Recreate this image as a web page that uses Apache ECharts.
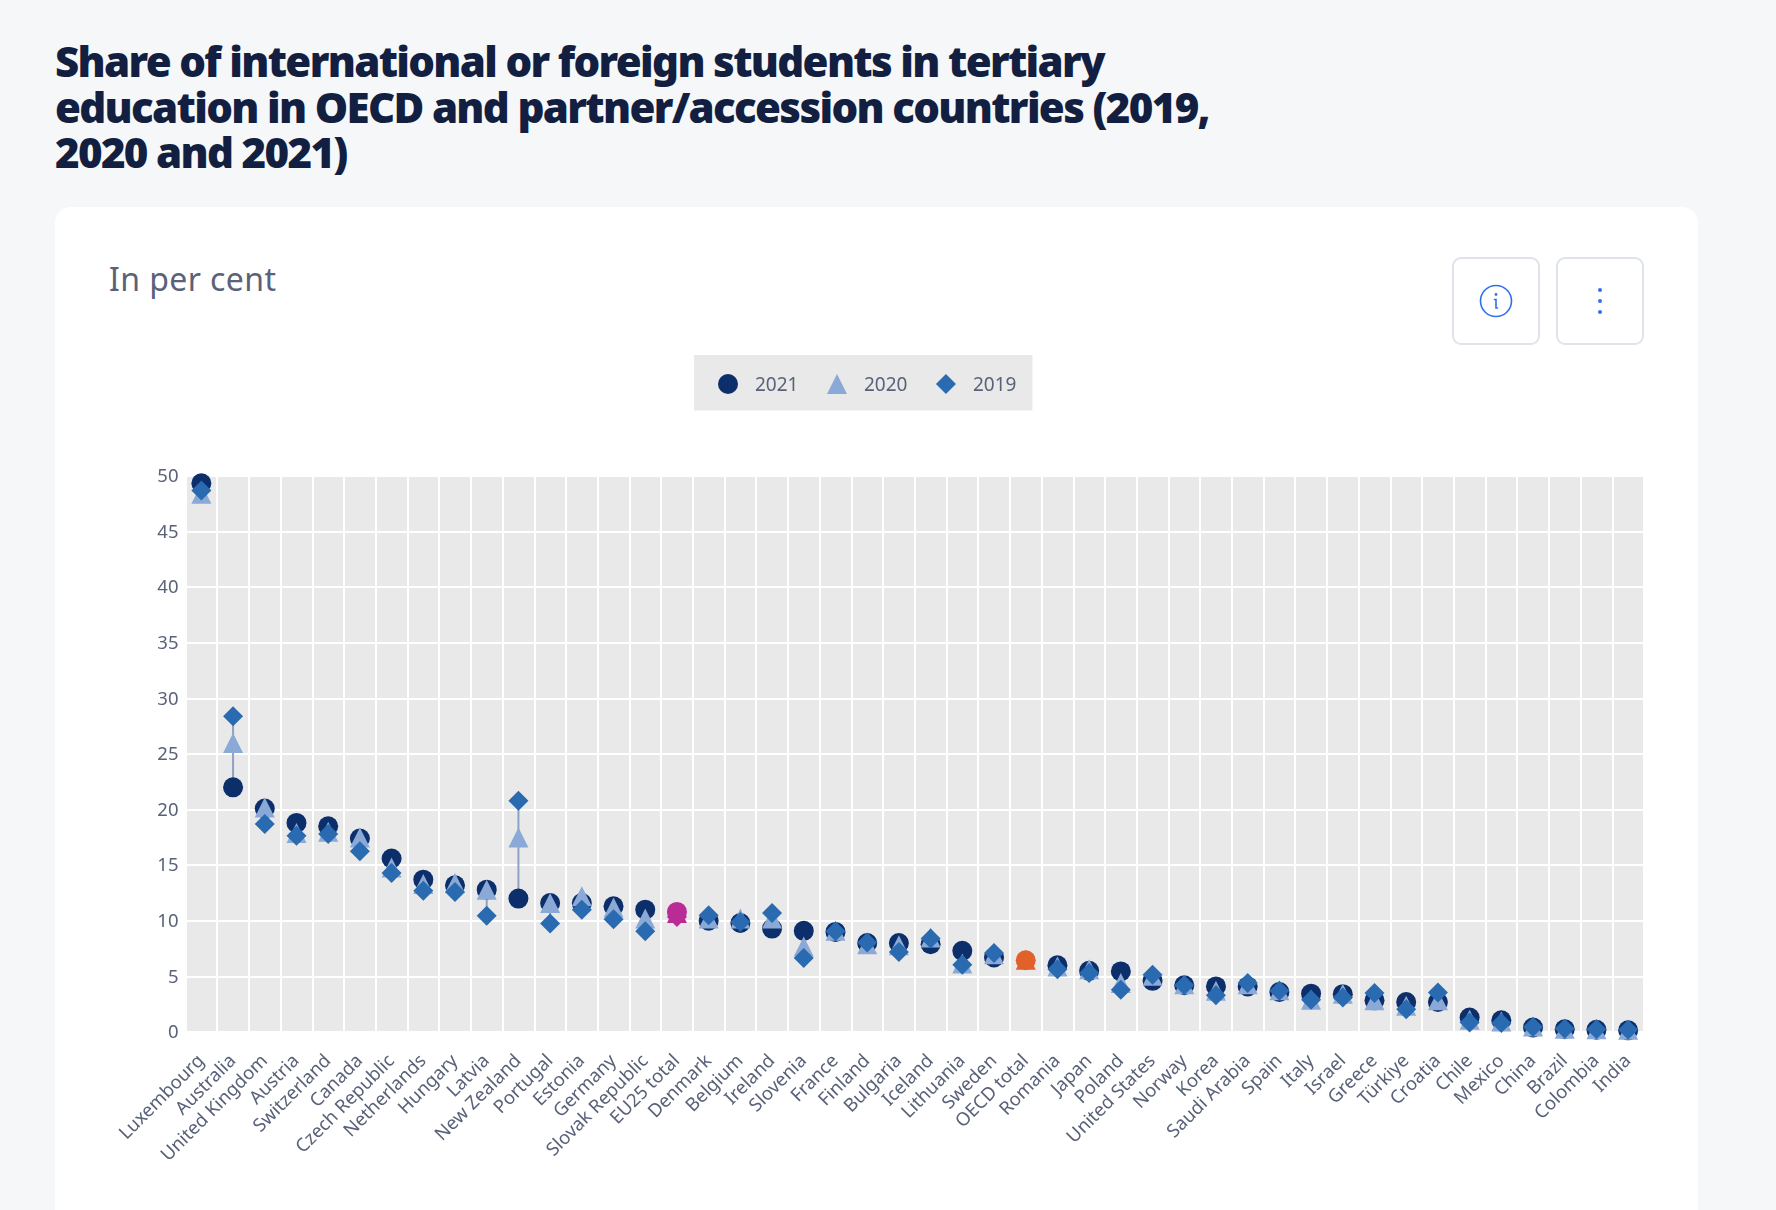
<!DOCTYPE html>
<html>
<head>
<meta charset="utf-8">
<title>Share of international or foreign students</title>
<script src="https://cdn.jsdelivr.net/npm/echarts@6/dist/echarts.min.js"></script>
<style>
  html, body { margin: 0; padding: 0; background: #f6f7f9; overflow: hidden; }
  body { width: 1776px; height: 1210px; position: relative; font-family: "Noto Sans", sans-serif; }
  h1 { position: absolute; left: 55px; top: 38px; margin: 0; font-size: 42px; line-height: 45.5px; font-weight: 900; letter-spacing: -1.67px; color: #121f41; }
  .card { position: absolute; left: 55px; top: 207px; width: 1643px; height: 1100px; background: #fff; border-radius: 16px; }
  .sub { position: absolute; left: 109px; top: 258px; font-size: 32px; line-height: 42px; letter-spacing: 0.4px; color: #5a6279; }
  .btn { position: absolute; top: 257px; width: 84px; height: 84px; border: 2px solid #dfe3ea; border-radius: 9px; background: #fff; display: flex; align-items: center; justify-content: center; }
  #chart { position: absolute; left: 0; top: 0; width: 1776px; height: 1210px; }
</style>
</head>
<body>
<h1>Share of international or foreign students in tertiary<br>education in OECD and partner/accession countries (2019,<br>2020 and 2021)</h1>
<div class="card"></div>
<div class="sub">In per cent</div>
<div id="chart"></div>
<div class="btn" style="left:1452px">
  <svg width="36" height="36" viewBox="0 0 36 36" fill="none" stroke="#2f6fed" stroke-width="1.6"><circle cx="18" cy="18" r="15.5"/><path d="M16.5 16.5h1.5v8.5h1.5" stroke-linecap="round"/><circle cx="18" cy="11.5" r="0.6" fill="#2f6fed"/></svg>
</div>
<div class="btn" style="left:1556px">
  <svg width="8" height="30" viewBox="0 0 8 30" fill="#2f6fed"><circle cx="4" cy="4" r="2"/><circle cx="4" cy="15" r="2"/><circle cx="4" cy="26" r="2"/></svg>
</div>
<script>
const countries = ['Luxembourg', 'Australia', 'United Kingdom', 'Austria', 'Switzerland', 'Canada', 'Czech Republic', 'Netherlands', 'Hungary', 'Latvia', 'New Zealand', 'Portugal', 'Estonia', 'Germany', 'Slovak Republic', 'EU25 total', 'Denmark', 'Belgium', 'Ireland', 'Slovenia', 'France', 'Finland', 'Bulgaria', 'Iceland', 'Lithuania', 'Sweden', 'OECD total', 'Romania', 'Japan', 'Poland', 'United States', 'Norway', 'Korea', 'Saudi Arabia', 'Spain', 'Italy', 'Israel', 'Greece', 'Türkiye', 'Croatia', 'Chile', 'Mexico', 'China', 'Brazil', 'Colombia', 'India']
const values2021 = [49.35, 22.0, 20.1, 18.8, 18.5, 17.4, 15.6, 13.7, 13.2, 12.8, 12.0, 11.6, 11.6, 11.3, 11.0, 10.8, 10.0, 9.8, 9.3, 9.1, 9.0, 8.0, 8.0, 7.9, 7.3, 6.7, 6.45, 6.0, 5.5, 5.45, 4.6, 4.2, 4.1, 4.1, 3.6, 3.45, 3.4, 2.85, 2.7, 2.7, 1.3, 1.05, 0.4, 0.25, 0.2, 0.15]
const values2020 = [48.4, 26.0, 20.2, 17.9, 18.0, 17.5, 14.8, 13.3, 13.4, 12.8, 17.5, 11.6, 12.2, 11.2, 10.2, 10.7, 10.2, 10.2, 10.2, 7.7, 9.1, 7.9, 7.8, 8.5, 6.15, 7.0, 6.5, 5.9, 5.65, 4.4, 5.05, 4.3, 3.7, 4.3, 3.75, 2.9, 3.45, 2.85, 2.35, 2.85, 1.1, 0.95, 0.5, 0.3, 0.25, 0.2]
const values2019 = [48.7, 28.4, 18.7, 17.65, 17.8, 16.25, 14.3, 12.7, 12.6, 10.45, 20.8, 9.75, 11.0, 10.15, 9.05, 10.35, 10.5, 9.9, 10.7, 6.65, 9.05, 8.05, 7.2, 8.4, 6.05, 7.1, 6.45, 5.65, 5.3, 3.8, 5.15, 4.2, 3.3, 4.4, 3.7, 2.9, 3.1, 3.5, 2.05, 3.55, 0.85, 0.8, 0.45, 0.3, 0.25, 0.2]
const highlightColors = { 'EU25 total': '#b92c96', 'OECD total': '#e2612a' }

const textColor = '#5a6279'

function pointsOf(values) {
    return values.map((v, i) => {
        const color = highlightColors[countries[i]]
        return color ? { value: v, itemStyle: { color: color } } : v
    })
}

// hi-lo line behind the three markers of each country
const rangeData = countries.map((c, i) => {
    const row = [values2021[i], values2020[i], values2019[i]]
    return [i, Math.min(...row), Math.max(...row)]
})

const chart = echarts.init(document.getElementById('chart'))
chart.setOption({
    animation: false,
    textStyle: { fontFamily: '"Noto Sans", sans-serif' },
    legend: {
        data: ['2021', '2020', '2019'],
        left: 694,
        top: 355,
        padding: [19, 16, 15, 24],
        backgroundColor: '#e9e9e9',
        itemWidth: 20,
        itemHeight: 20,
        itemGap: 28.5,
        selectedMode: false,
        formatter: '{t|{name}}',
        textStyle: {
            rich: { t: { color: textColor, fontSize: 19, padding: [4, 0, 0, 12] } }
        }
    },
    grid: {
        left: 185.5,
        right: 132,
        top: 476,
        height: 556,
        backgroundColor: '#e9e9e9',
        show: true,
        borderWidth: 0,
        containLabel: false
    },
    xAxis: {
        type: 'category',
        data: countries,
        boundaryGap: true,
        axisLine: { show: false },
        axisTick: { show: false },
        axisLabel: { interval: 0, rotate: 45, fontSize: 18.5, color: textColor, margin: 26 },
        splitLine: { show: true, interval: 0, lineStyle: { color: '#fff', width: 2 } }
    },
    yAxis: {
        type: 'value',
        min: 0,
        max: 50,
        interval: 5,
        axisLine: { show: false },
        axisTick: { show: false },
        axisLabel: {
            margin: 7,
            formatter: '{t|{value}}',
            rich: { t: { color: textColor, fontSize: 18.5, padding: [2, 0, 0, 0] } }
        },
        splitLine: { lineStyle: { color: '#fff', width: 2 } }
    },
    series: [
        {
            type: 'custom',
            name: 'range',
            z: 1,
            clip: false,
            silent: true,
            encode: { x: 0, y: [1, 2] },
            data: rangeData,
            renderItem: (params, api) => {
                const low = api.coord([api.value(0), api.value(1)])
                const high = api.coord([api.value(0), api.value(2)])
                return {
                    type: 'line',
                    shape: { x1: low[0], y1: low[1], x2: high[0], y2: high[1] },
                    style: { stroke: '#8ea2c4', lineWidth: 2 }
                }
            }
        },
        { type: 'scatter', name: '2021', z: 2, clip: false, symbol: 'circle', symbolSize: 20, itemStyle: { color: '#0c2e6b', opacity: 1 }, data: pointsOf(values2021) },
        { type: 'scatter', name: '2020', z: 3, clip: false, symbol: 'triangle', symbolSize: 20, itemStyle: { color: '#8aa9d6', opacity: 1 }, data: pointsOf(values2020) },
        { type: 'scatter', name: '2019', z: 4, clip: false, symbol: 'diamond', symbolSize: 20, itemStyle: { color: '#2a6ab0', opacity: 1 }, data: pointsOf(values2019) }
    ]
})
</script>
</body>
</html>
